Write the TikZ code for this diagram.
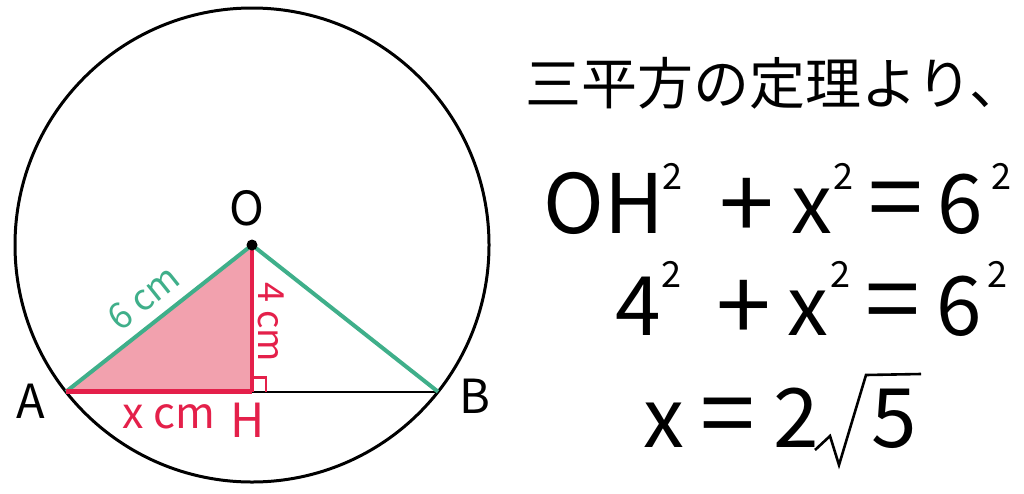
\documentclass[tikz,border=0pt]{standalone}
\usepackage{fontspec}
\usetikzlibrary{calc}
\setmainfont{Noto Sans CJK JP}
\definecolor{grn}{HTML}{3FAF8A}
\definecolor{rd}{HTML}{E4204A}
\definecolor{pnk}{HTML}{F2A1AE}
\begin{document}
\begin{tikzpicture}[x=1pt,y=-1pt,
  lbl/.style={inner sep=0pt,font=\fontsize{47}{52}\selectfont},
  smlbl/.style={inner sep=0pt,font=\fontsize{36}{40}\selectfont},
  eq/.style={inner sep=0pt,anchor=base,font=\fontsize{82}{90}\selectfont},
  op/.style={inner sep=0pt,anchor=center,xscale=1.2,yscale=1.2,font=\fontsize{82}{90}\selectfont},
  sq/.style={inner sep=0pt,anchor=base,font=\fontsize{36}{40}\selectfont}]
\useasboundingbox (0,0) rectangle (1024,493);
% geometry
\coordinate (C) at (252,245);
\coordinate (O) at (252,245);
\coordinate (A) at (66,391.7);
\coordinate (B) at (438,391.7);
\coordinate (H) at (252,391.7);
\coordinate (R1) at (252,377.7);
\coordinate (R2) at (266,377.7);
\coordinate (R3) at (266,391.7);
\fill[pnk] (A) -- (O) -- (H) -- cycle;
\draw[line width=3pt] (C) circle[radius=237];
\draw[line width=2.2pt] (H) -- (B);
\draw[grn,line width=4pt] (A) -- (O);
\draw[grn,line width=4pt] (O) -- (B);
\draw[rd,line width=3.5pt] (O) -- (H);
\draw[rd,line width=5pt] (A) -- (H);
\draw[rd,line width=2.5pt] (R1) -- (R2) -- (R3);
\fill (O) circle[radius=5.5];
% labels
\node[lbl] (lO) at (246.7,208) {O};
\node[lbl] (lA) at (31,401.5) {A};
\node[lbl] (lB) at (475,396.5) {B};
\node[lbl,text=rd] (lH) at (247.5,420) {H};
\node[inner sep=0pt,font=\fontsize{43}{48}\selectfont,text=rd,anchor=base] (lx) at (169,428) {x cm};
\node[smlbl,text=grn,rotate=38.6] (l6) at (143.5,297.5) {6 cm};
\node[smlbl,text=rd,rotate=-90] (l4) at (271,322) {4 cm};
% text
\node[inner sep=0pt,anchor=west,font=\fontsize{56}{62}\selectfont] (t0) at (525,83) {三平方の定理より、};
% line 1
\node[eq] (a1) at (603.5,233) {OH};
\node[sq] (a2) at (672.5,189) {2};
\node[op] (a3) at (746.5,209) {+};
\node[eq] (a4) at (811.5,233) {x};
\node[sq] (a5) at (843.5,189) {2};
\node[op] (a6) at (896,208) {=};
\node[eq] (a7) at (960.5,233) {6};
\node[sq] (a8) at (1001.5,189) {2};
% line 2
\node[eq] (b1) at (638.5,335) {4};
\node[sq] (b2) at (671.5,287) {2};
\node[op] (b3) at (743.5,311) {+};
\node[eq] (b4) at (808,335) {x};
\node[sq] (b5) at (840.5,287) {2};
\node[op] (b6) at (892.5,309.5) {=};
\node[eq] (b7) at (959,335) {6};
\node[sq] (b8) at (997.5,287) {2};
% line 3
\node[eq] (c1) at (663.5,447) {x};
\node[op] (c2) at (727.5,424) {=};
\node[eq] (c3) at (796.5,447) {2};
\draw[line width=2.6pt,line join=miter] (815,450) -- (830,436) -- (839,465) -- (866,375) -- (921,374);
\node[eq] (c5) at (894.5,447) {5};
\end{tikzpicture}
\end{document}
